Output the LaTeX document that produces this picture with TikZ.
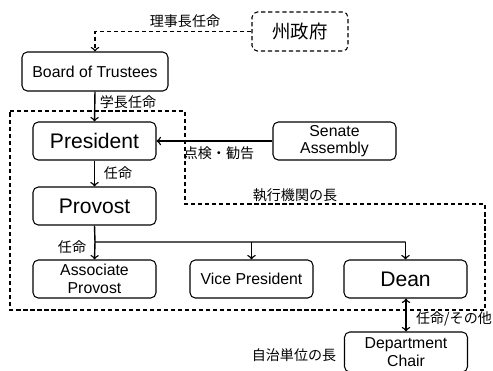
\documentclass[tikz,border=0pt]{standalone}
\usepackage{fontspec}
\setmainfont{Liberation Sans}
\newfontfamily\jp{Noto Sans CJK JP}
\usepackage{tikz}
\usepackage{xcolor}

\tikzset{
  box/.style={draw, rounded corners=3pt, line width=0.6pt, minimum width=2.46cm, minimum height=0.76cm, align=center, inner sep=1pt, font=\fontsize{9}{10}\selectfont},
  bigbox/.style={box, font=\fontsize{12}{13}\selectfont},
  lab/.style={font=\jp\fontsize{8}{9}\selectfont, inner sep=1pt},
  arr/.style={->, line width=0.8pt},
  dashline/.style={dash pattern=on 2.4pt off 1.6pt}
}

\begin{document}
\begin{tikzpicture}[x=0.02cm, y=-0.02cm]
\useasboundingbox (0,0) rectangle (493,370);
% boxes
\node [box, dashline, minimum width=1.92cm, minimum height=0.78cm, font=\jp\fontsize{10.5}{11}\selectfont] (gov) at (300,31.5) {州政府};
\node [box, minimum width=2.92cm, minimum height=0.78cm] (board) at (95,71.5) {Board of Trustees};
\node [bigbox] (pres) at (94.5,141) {President};
\node [box] (senate) at (334.5,141) {Senate\\Assembly};
\node [bigbox] (prov) at (94.5,206) {Provost};
\node [box] (assoc) at (94.5,279) {Associate\\Provost};
\node [box] (vp) at (251.5,279) {Vice President};
\node [bigbox] (dean) at (405.5,279) {Dean};
\node [box, minimum height=0.8cm] (chair) at (406,352) {Department\\Chair};
\coordinate (split) at (95,242);
% executive region
\draw [dashline, line width=0.6pt] (10,111) -- (185,111) -- (185,204) -- (485,204) -- (485,310) -- (10,310) -- cycle;
% connectors
\draw [arr, dashline] (gov.west) -| (board.north);
\draw [arr] (board.south) -- (pres.north);
\draw [arr] (senate.west) -- (pres.east);
\draw [arr] (pres.south) -- (prov.north);
\draw [line width=0.8pt] (prov.south) -- (split) -- (split -| dean.north);
\draw [arr] (split) -- (assoc.north);
\draw [arr] (split -| vp.north) -- (vp.north);
\draw [arr] (split -| dean.north) -- (dean.north);
\draw [<->, line width=0.8pt] (dean.south -| chair.north) -- (chair.north);
% labels
\node [lab] (l1) at (185,21) {理事長任命};
\node [lab] (l2) at (128,102) {学長任命};
\node [lab] (l3) at (219,153) {点検・勧告};
\node [lab] (l4) at (118,173) {任命};
\node [lab] (l5) at (295,195) {執行機関の長};
\node [lab] (l6) at (72,247) {任命};
\node [lab] (l7) at (454,319) {任命/その他};
\node [lab] (l8) at (294,355) {自治単位の長};
\end{tikzpicture}
\end{document}
